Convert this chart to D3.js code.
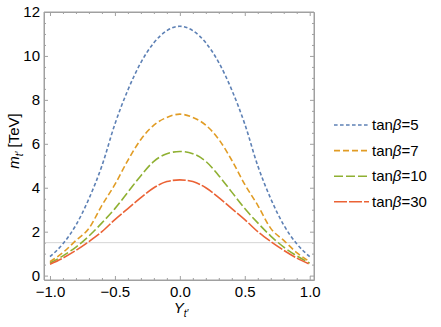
<!DOCTYPE html>
<html>
<head>
<meta charset="utf-8">
<script src="https://cdn.jsdelivr.net/npm/d3@7"></script>
<style>
  body { margin: 0; background: #fff; }
  svg text { font-family: "Liberation Sans", Arial, sans-serif; }
</style>
</head>
<body>
<svg id="chart" width="441" height="327"></svg>
<script>
// x positions of the samples (Y_t')
var xs = [-1.0, -0.9, -0.8, -0.7, -0.6, -0.5, -0.4, -0.3, -0.2, -0.1, 0.0,
          0.1, 0.2, 0.3, 0.4, 0.5, 0.6, 0.7, 0.8, 0.9, 1.0];

// m_t' in TeV, one array per tan(beta)
var tb5  = [0.86, 1.45, 2.3, 3.5, 5.0, 6.9, 8.45, 9.7, 10.6, 11.15, 11.35,
            11.15, 10.6, 9.7, 8.45, 6.9, 5.0, 3.5, 2.3, 1.45, 0.86];
var tb7  = [0.63, 1.05, 1.6, 2.15, 3.2, 4.15, 5.25, 6.2, 6.85, 7.2, 7.35,
            7.2, 6.85, 6.2, 5.25, 4.15, 3.2, 2.15, 1.6, 1.05, 0.63];
var tb10 = [0.57, 0.9, 1.3, 1.8, 2.4, 3.05, 3.8, 4.55, 5.2, 5.55, 5.65,
            5.55, 5.2, 4.55, 3.8, 3.05, 2.4, 1.8, 1.3, 0.9, 0.57];
var tb30 = [0.52, 0.8, 1.15, 1.55, 2.0, 2.55, 3.05, 3.55, 4.0, 4.28, 4.36,
            4.28, 4.0, 3.55, 3.05, 2.55, 2.0, 1.55, 1.15, 0.8, 0.52];

var tanBetas = ["5", "7", "10", "30"];
var seriesColors = ["#5e81b5", "#e19c24", "#8fb032", "#eb6235"];
var seriesDash = ["3.6,2.4", "6,3", "9,3", "13,2"];

var xTicks = [-1.0, -0.5, 0.0, 0.5, 1.0];
var yTicks = [0, 2, 4, 6, 8, 10, 12];
var refLine = 1.5;

var svg = d3.select("#chart");

var x = d3.scaleLinear().domain([-1.046, 1.033]).range([44, 314]);
var y = d3.scaleLinear().domain([-0.2, 12]).range([280, 12]);

var frameColor = "#a0a0a0";

// minor tick values
var xMinor = d3.range(-1.0, 1.0001, 0.1).map(function (d) { return +d.toFixed(2); })
    .filter(function (d) { return xTicks.indexOf(d) < 0; });
var yMinor = d3.range(0, 12.0001, 0.5).filter(function (d) { return yTicks.indexOf(d) < 0; });

function fmtX(d) { return d3.format(".1f")(d).replace("-", "\u2212"); }

function styleAxis(g) {
    g.select(".domain").attr("stroke", frameColor).attr("stroke-width", 1);
    g.selectAll(".tick line").attr("stroke", frameColor);
    g.selectAll(".tick text").attr("fill", "#000").style("font-size", "15px");
}

// bottom (labelled) and top
svg.append("g").attr("transform", "translate(0,280)")
    .call(d3.axisBottom(x).tickValues(xTicks).tickFormat(fmtX).tickSize(-4).tickPadding(6).tickSizeOuter(0))
    .call(styleAxis)
    .call(function (g) { g.selectAll(".domain").attr("d", "M44,0H314"); });
svg.append("g").attr("transform", "translate(0,280)")
    .call(d3.axisBottom(x).tickValues(xMinor).tickFormat("").tickSize(-2).tickSizeOuter(0))
    .call(styleAxis);
svg.append("g").attr("transform", "translate(0,12)")
    .call(d3.axisTop(x).tickValues(xTicks).tickFormat("").tickSize(-4).tickSizeOuter(0))
    .call(styleAxis)
    .call(function (g) { g.selectAll(".domain").attr("d", "M44,0H314"); });
svg.append("g").attr("transform", "translate(0,12)")
    .call(d3.axisTop(x).tickValues(xMinor).tickFormat("").tickSize(-2).tickSizeOuter(0))
    .call(styleAxis);

// left (labelled) and right
svg.append("g").attr("transform", "translate(44,0)")
    .call(d3.axisLeft(y).tickValues(yTicks).tickSize(-4).tickPadding(4).tickSizeOuter(0))
    .call(styleAxis)
    .call(function (g) { g.selectAll(".domain").attr("d", "M0,12V280"); });
svg.append("g").attr("transform", "translate(44,0)")
    .call(d3.axisLeft(y).tickValues(yMinor).tickFormat("").tickSize(-2).tickSizeOuter(0))
    .call(styleAxis);
svg.append("g").attr("transform", "translate(314,0)")
    .call(d3.axisRight(y).tickValues(yTicks).tickFormat("").tickSize(-4).tickSizeOuter(0))
    .call(styleAxis)
    .call(function (g) { g.selectAll(".domain").attr("d", "M0,12V280"); });
svg.append("g").attr("transform", "translate(314,0)")
    .call(d3.axisRight(y).tickValues(yMinor).tickFormat("").tickSize(-2).tickSizeOuter(0))
    .call(styleAxis);

// light reference line
svg.append("line")
    .attr("x1", x.range()[0] + 1).attr("x2", x.range()[1] - 1)
    .attr("y1", y(refLine)).attr("y2", y(refLine))
    .attr("stroke", "#d6d6d6").attr("stroke-width", 1);

// curves
var allSeries = [tb5, tb7, tb10, tb30];
var line = d3.line()
    .x(function (d, i) { return x(xs[i]); })
    .y(function (d) { return y(d); })
    .curve(d3.curveMonotoneX);

allSeries.forEach(function (s, k) {
    svg.append("path")
        .datum(s)
        .attr("d", line)
        .attr("fill", "none")
        .attr("stroke", seriesColors[k])
        .attr("stroke-width", 1.6)
        .attr("stroke-dasharray", seriesDash[k]);
});

// axis labels
var yl = svg.append("text")
    .attr("transform", "translate(19,141) rotate(-90)")
    .attr("text-anchor", "middle")
    .style("font-size", "15px");
yl.append("tspan").style("font-style", "italic").text("m");
yl.append("tspan").style("font-style", "italic").style("font-size", "10px").attr("dy", 4).text("t\u2032");
yl.append("tspan").attr("dy", -4).text(" [TeV]");

var xl = svg.append("text")
    .attr("x", 181).attr("y", 313)
    .attr("text-anchor", "middle")
    .style("font-size", "15px");
xl.append("tspan").style("font-style", "italic").text("Y");
xl.append("tspan").style("font-style", "italic").style("font-size", "10px").attr("dy", 4).text("t\u2032");

// legend
var legend = svg.append("g");
tanBetas.forEach(function (tb, k) {
    var ly = 125 + k * 25.6;
    legend.append("line")
        .attr("x1", 334).attr("x2", 369)
        .attr("y1", ly).attr("y2", ly)
        .attr("stroke", seriesColors[k])
        .attr("stroke-width", 1.6)
        .attr("stroke-dasharray", seriesDash[k]);
    var t = legend.append("text")
        .attr("x", 372).attr("y", ly + 5)
        .style("font-size", "15px");
    t.append("tspan").text("tan");
    t.append("tspan").style("font-style", "italic").text("\u03b2");
    t.append("tspan").text("=" + tb);
});
</script>
</body>
</html>
